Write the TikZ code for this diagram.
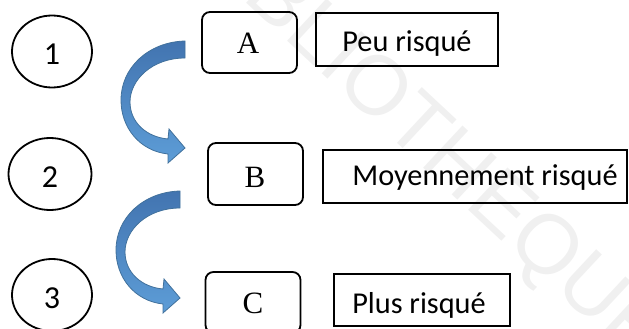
\documentclass[tikz,border=0pt]{standalone}
\usepackage{fontspec}
\setmainfont{Liberation Serif}
\newfontfamily\calfont{Carlito}
\newfontfamily\wmfont{Liberation Sans}
\usetikzlibrary{shapes.geometric}
\definecolor{arrowdark}{RGB}{66,116,176}
\definecolor{arrowlight}{RGB}{93,157,215}
\definecolor{arrowline}{RGB}{65,113,156}
\tikzset{
  numell/.style={ellipse, draw=black, line width=1.8pt, minimum width=80pt, minimum height=72pt, inner sep=0pt},
  letterbox/.style={draw=black, line width=1.8pt, rounded corners=8pt, minimum width=95pt, minimum height=61pt, inner sep=0pt},
  riskbox/.style={draw=black, line width=1.8pt, inner sep=0pt},
  numtxt/.style={font=\calfont\fontsize{32}{36}\selectfont, anchor=base, inner sep=0pt},
  lettxt/.style={font=\fontsize{31}{36}\selectfont, anchor=base, inner sep=0pt},
  risktxt/.style={font=\calfont\fontsize{30.3}{34}\selectfont, anchor=base, inner sep=0pt},
  bentarrow/.style={top color=arrowdark, bottom color=arrowlight, draw=arrowline, line width=0.8pt}
}
\newcommand\drawbentarrow[2]{%
  \begin{scope}[shift={(#1,#2)}]
    \shade[bentarrow]
      (185,41) .. controls (148,42) and (121,68) .. (121,100)
      .. controls (121,128) and (140,151) .. (168,154)
      -- (168,163) -- (185,148) -- (169,129) -- (168,139)
      .. controls (146,137) and (130,122) .. (130,102)
      .. controls (130,80) and (152,58) .. (185,58) -- cycle;
  \end{scope}}
\begin{document}
\begin{tikzpicture}[x=1pt,y=-1pt]
\useasboundingbox (0,0) rectangle (629,329);
\begin{scope}
  \clip (0,0) rectangle (629,329);
  % watermark
  \node[font=\wmfont\fontsize{84}{90}\selectfont, text=gray!12, rotate=-43, inner sep=0pt] (wm) at (425,140) {BIBLIOTHEQUE};
  % ellipses
  \node[numell] (e1) at (52,51.5) {};
  \node[numell, minimum width=83pt] (e2) at (50,174) {};
  \node[numell] (e3) at (52,295) {};
  \node[numtxt] (n1) at (52,65) {1};
  \node[numtxt] (n2) at (50,187) {2};
  \node[numtxt] (n3) at (52,308) {3};
  % letter boxes
  \node[letterbox] (A) at (249.5,42.5) {};
  \node[letterbox, minimum height=62pt] (B) at (255.5,174) {};
  \node[letterbox] (C) at (253,302.5) {};
  \node[lettxt] (tA) at (248,54) {A};
  \node[lettxt] (tB) at (255,187) {B};
  \node[lettxt] (tC) at (253,313) {C};
  % risk boxes
  \node[riskbox, minimum width=182pt, minimum height=53pt] (r1) at (407,39.5) {};
  \node[riskbox, minimum width=304pt, minimum height=53pt] (r2) at (475,176.5) {};
  \node[riskbox, minimum width=176pt, minimum height=52pt] (r3) at (422,300) {};
  \node[risktxt] (t1) at (407,52) {Peu risqué};
  \node[risktxt] (t2) at (485,185) {Moyennement risqué};
  \node[risktxt] (t3) at (419,313) {Plus risqué};
  % bent arrows
  \drawbentarrow{0}{0}
  \drawbentarrow{-5}{150}
\end{scope}
\end{tikzpicture}
\end{document}
